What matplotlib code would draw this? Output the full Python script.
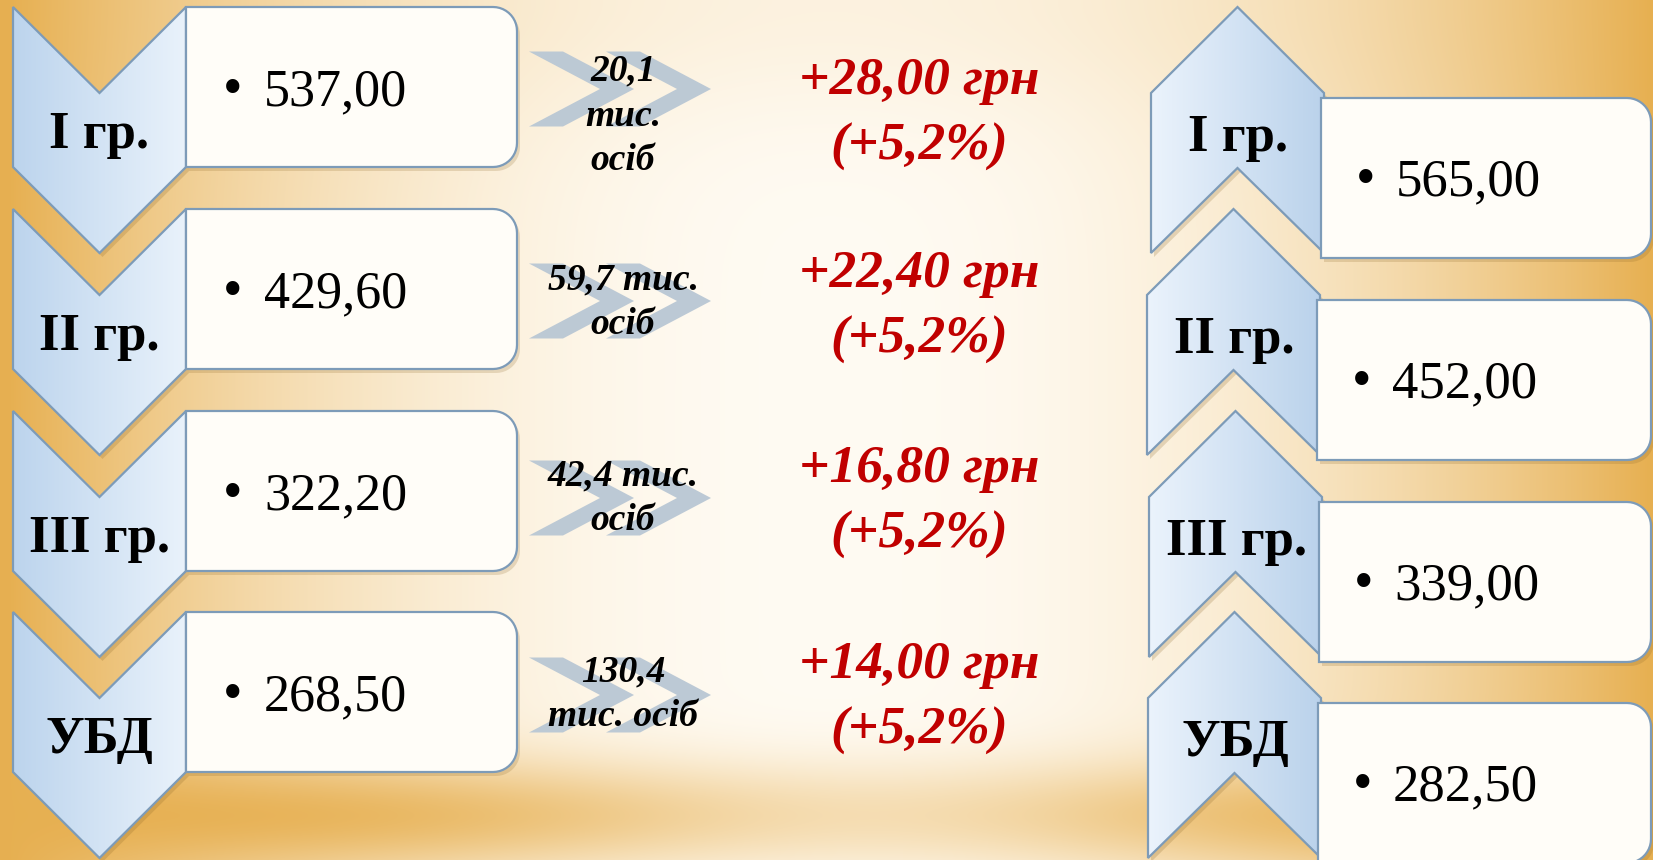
import numpy as np
import matplotlib
matplotlib.use('Agg')
import matplotlib.pyplot as plt
from matplotlib.patches import Polygon
from matplotlib.colors import LinearSegmentedColormap

plt.rcParams['font.family'] = ['Liberation Serif', 'DejaVu Serif']

# дані
groups = ['I гр.', 'II гр.', 'III гр.', 'УБД']
old_pension = [537.00, 429.60, 322.20, 268.50]
new_pension = [565.00, 452.00, 339.00, 282.50]
increase = [28.00, 22.40, 16.80, 14.00]
increase_pct = [5.2, 5.2, 5.2, 5.2]
people_k = [20.1, 59.7, 42.4, 130.4]
people_fmt = ['{}\nтис.\nосіб', '{} тис.\nосіб', '{} тис.\nосіб', '{}\nтис. осіб']


def ua(v, nd=2):
    return f"{v:.{nd}f}".replace('.', ',')


W, H = 1653, 860
fig = plt.figure(figsize=(W / 100, H / 100), dpi=100)
ax = fig.add_axes([0, 0, 1, 1])

# фон
xx, yy = np.meshgrid(np.arange(W), np.arange(H))
cream = np.array([1.0, 0.984, 0.952])
gold = np.array([0.905, 0.690, 0.320])
wx = np.clip(np.abs(xx - 830) / 820.0, 0, 1) ** 2.2
wb = np.exp(-((yy - 815) / 55.0) ** 2) * (0.95 - 0.55 * np.exp(-((xx - 880) / 380.0) ** 2))
wt = 0.12 * np.exp(-(yy / 120.0) ** 2)
w = 1 - (1 - wx) * (1 - wb) * (1 - wt)
bg = cream[None, None, :] * (1 - w[..., None]) + gold[None, None, :] * w[..., None]
ax.imshow(bg, extent=(0, W, H, 0), origin='upper', aspect='auto', zorder=0)

edge = '#7d9bb8'
cm_left = LinearSegmentedColormap.from_list('l', ['#bcd4ed', '#e9f2fb'])
cm_right = LinearSegmentedColormap.from_list('r', ['#ebf3fc', '#bad2eb'])
grad = np.linspace(0, 1, 256)[None, :]


def filled(pts, cmap):
    pts = np.array(pts, dtype=float)
    sh = Polygon(pts + [3, 4], closed=True, fc='#8a6424', ec='none', alpha=0.22, zorder=1)
    ax.add_patch(sh)
    p = Polygon(pts, closed=True, fc='none', ec=edge, lw=1.6, zorder=3)
    ax.add_patch(p)
    im = ax.imshow(grad, cmap=cmap, aspect='auto', zorder=2,
                   extent=(pts[:, 0].min(), pts[:, 0].max(), pts[:, 1].max(), pts[:, 1].min()))
    im.set_clip_path(p)


def box(x0, y0, bw, bh, r=24):
    a = np.linspace(-np.pi / 2, 0, 12)
    b = np.linspace(0, np.pi / 2, 12)
    pts = [(x0, y0)]
    pts += [(x0 + bw - r + r * np.cos(t), y0 + r + r * np.sin(t)) for t in a]
    pts += [(x0 + bw - r + r * np.cos(t), y0 + bh - r + r * np.sin(t)) for t in b]
    pts += [(x0, y0 + bh)]
    pts = np.array(pts)
    ax.add_patch(Polygon(pts + [3, 4], closed=True, fc='#8a6424', ec='none', alpha=0.2, zorder=4))
    ax.add_patch(Polygon(pts, closed=True, fc='#fffdf8', ec=edge, lw=1.6, zorder=5))


cw, shaft, dep = 173, 160, 86
row_y = [7, 209, 411, 612]
right_dx = [0, -4, -2, -3]
mid_y = [89, 301, 498, 695]
mid_text_y = [116, 302, 498, 694]
red_y = [114, 307, 502, 698]

for i in range(4):
    y0 = row_y[i]
    # ліва колонка
    x0 = 13
    filled([(x0, y0), (x0 + cw / 2, y0 + dep), (x0 + cw, y0), (x0 + cw, y0 + shaft),
            (x0 + cw / 2, y0 + shaft + dep), (x0, y0 + shaft)], cm_left)
    box(186, y0, 331, 160)
    ax.text(x0 + cw / 2, y0 + 141, groups[i], ha='center', va='baseline',
            fontsize=38, fontweight='bold', zorder=6)
    ax.text(233, y0 + 98, '•', ha='center', va='baseline', fontsize=40, zorder=6)
    ax.text(264, y0 + 98, ua(old_pension[i]), ha='left', va='baseline', fontsize=37.5, zorder=6)

    # права колонка
    x1 = 1151 + right_dx[i]
    filled([(x1, y0 + dep), (x1 + cw / 2, y0), (x1 + cw, y0 + dep), (x1 + cw, y0 + dep + shaft),
            (x1 + cw / 2, y0 + shaft + 1), (x1, y0 + dep + shaft)], cm_right)
    box(x1 + 170, y0 + 91, 1651 - (x1 + 170), 160)
    ax.text(x1 + cw / 2 + 1, y0 + 144, groups[i], ha='center', va='baseline',
            fontsize=38, fontweight='bold', zorder=6)
    ax.text(x1 + 215, y0 + 91 + 97, '•', ha='center', va='baseline', fontsize=40, zorder=6)
    ax.text(x1 + 245, y0 + 91 + 97, ua(new_pension[i]), ha='left', va='baseline',
            fontsize=38, zorder=6)

    # подвійна стрілка
    yc = mid_y[i]
    for k in range(2):
        ax0 = 529 + 77 * k
        pts = [(ax0, yc - 37.5), (ax0 + 34, yc - 37.5), (ax0 + 105, yc), (ax0 + 34, yc + 37.5),
               (ax0, yc + 37.5), (ax0 + 71, yc)]
        ax.add_patch(Polygon(pts, closed=True, fc='#b9c7d4', ec='none', alpha=0.95, zorder=2))
    ax.text(623, mid_text_y[i], people_fmt[i].format(ua(people_k[i], 1)),
            ha='center', va='center', fontsize=27, fontweight='bold', fontstyle='italic',
            linespacing=1.36, zorder=6)

    # приріст
    ax.text(919, red_y[i], f"+{ua(increase[i])} грн\n(+{ua(increase_pct[i], 1)}%)",
            ha='center', va='center', fontsize=38.5, fontweight='bold', fontstyle='italic',
            color='#c00000', linespacing=1.48, zorder=6)

ax.set_xlim(0, W)
ax.set_ylim(H, 0)
ax.axis('off')
fig.savefig('out.png', dpi=100)
